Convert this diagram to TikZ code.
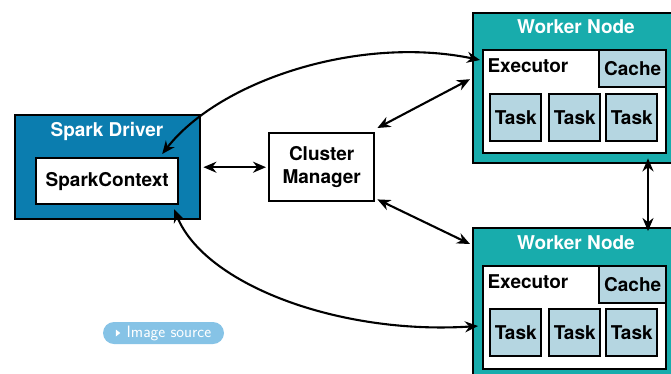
\documentclass[tikz,border=0pt]{standalone}
\usepackage{fontspec}
\setmainfont{TeX Gyre Heros}
\usetikzlibrary{arrows.meta,calc}
\definecolor{drvblue}{HTML}{0B7DAF}
\definecolor{wteal}{HTML}{18ACAC}
\definecolor{tasklt}{HTML}{B5D6E1}
\definecolor{btnblue}{HTML}{86C3E6}
\begin{document}
\begin{tikzpicture}[x=1pt,y=-1pt,
  box/.style={draw=black,line width=2.4pt,anchor=north west,inner sep=0pt},
  lbl/.style={font=\fontsize{19}{23}\selectfont\bfseries},
  wlbl/.style={font=\fontsize{19}{23}\selectfont\bfseries,text=white},
  conn/.style={line width=2.1pt,{Stealth[length=13pt,width=11pt]}-{Stealth[length=13pt,width=11pt]}},
  tasknode/.style={box,fill=tasklt,minimum width=51pt,minimum height=47pt}]
\useasboundingbox (0,0) rectangle (671,373);
\begin{scope}
\clip (0,0) rectangle (671,373);
% Spark driver
\node[box,fill=drvblue,minimum width=185pt,minimum height=104pt] (driver) at (14,114) {};
\node[wlbl] (drvlbl) at (107,131) {Spark Driver};
\node[box,fill=white,minimum width=142pt,minimum height=46pt] (sc) at (35,157) {};
\node[lbl] (sclbl) at (sc.center) {SparkContext};
% cluster manager
\node[box,fill=white,minimum width=105pt,minimum height=68pt] (cm) at (268,132) {};
\node[lbl,align=center] (cmlbl) at (cm.center) {Cluster\\Manager};
% worker 1
\node[box,fill=wteal,minimum width=210pt,minimum height=150pt] (w1) at (472,12) {};
\node[wlbl] (w1lbl) at (576,27) {Worker Node};
\node[box,fill=white,minimum width=183pt,minimum height=103pt] (e1) at (482,49) {};
\node[box,fill=tasklt,minimum width=67pt,minimum height=37pt] (c1) at (598,49) {};
\node[lbl] (c1lbl) at (c1.center) {Cache};
\node[lbl,anchor=west] (e1lbl) at (484,66) {Executor};
\node[tasknode] (t11) at (489,93) {};
\node[tasknode] (t12) at (548,93) {};
\node[tasknode] (t13) at (605,93) {};
\node[lbl] at (t11.center) {Task};
\node[lbl] at (t12.center) {Task};
\node[lbl] at (t13.center) {Task};
% worker 2
\node[box,fill=wteal,minimum width=210pt,minimum height=160pt] (w2) at (472,227) {};
\node[wlbl] (w2lbl) at (576,243) {Worker Node};
\node[box,fill=white,minimum width=183pt,minimum height=103pt] (e2) at (482,265) {};
\node[box,fill=tasklt,minimum width=67pt,minimum height=37pt] (c2) at (598,265) {};
\node[lbl] (c2lbl) at (c2.center) {Cache};
\node[lbl,anchor=west] (e2lbl) at (484,282) {Executor};
\node[tasknode] (t21) at (489,308) {};
\node[tasknode] (t22) at (548,308) {};
\node[tasknode] (t23) at (605,308) {};
\node[lbl] at (t21.center) {Task};
\node[lbl] at (t22.center) {Task};
\node[lbl] at (t23.center) {Task};
\end{scope}
% connectors
\draw[conn] ($(driver.east)+(2,0)$) -- ($(cm.west)+(-2,0)$);
\draw[conn] ($(cm.north east)+(2,-4)$) -- ($(w1.west)+(-2,-9)$);
\draw[conn] ($(cm.south east)+(2,-3)$) -- ($(w2.north west)+(-2,17)$);
\draw[conn] ($(sc.north)+(55,-3)$) .. controls (220,80) and (360,35) .. ($(e1.north west)+(-2,11)$);
\draw[conn] ($(sc.south)+(67,4)$) .. controls (205,285) and (340,335) .. ($(e2.north west)+(-4,61)$);
\draw[conn] ($(w1.south west)+(176,-6)$) -- ($(w2.north west)+(176,4)$);
% image source button
\node[fill=btnblue,rounded corners=11pt,minimum width=121pt,minimum height=22pt,inner sep=0pt] (src) at (163.5,333) {};
\node[text=white,font=\sffamily\fontsize{16.5}{19}\selectfont,anchor=west,inner sep=0pt] (srclbl) at (126.5,333) {Image source};
\fill[white] ($(src.west)+(13,-3.5)$) -- ($(src.west)+(17.5,0)$) -- ($(src.west)+(13,3.5)$) -- cycle;
\end{tikzpicture}
\end{document}
